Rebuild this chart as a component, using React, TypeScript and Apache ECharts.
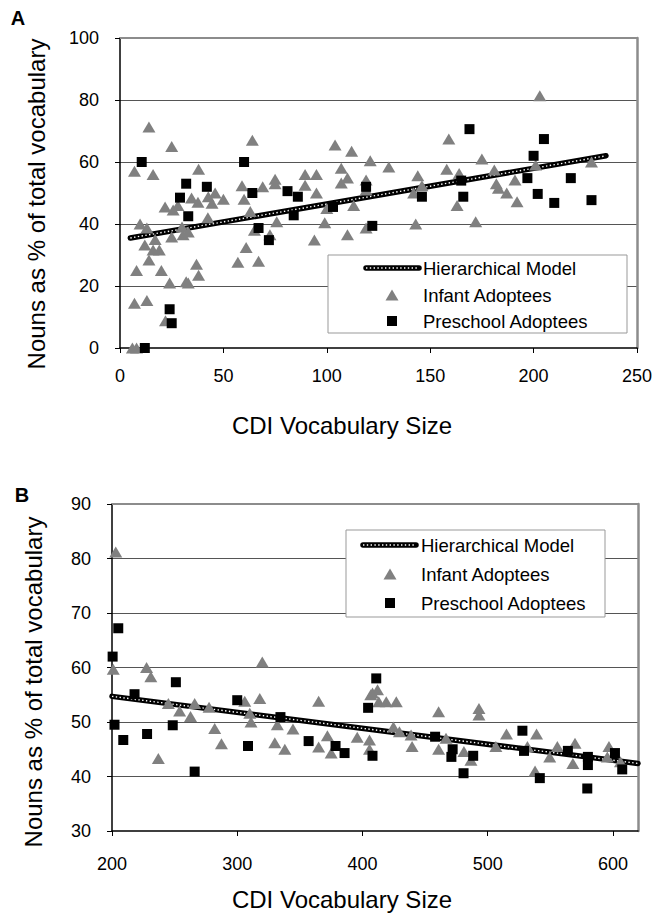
import React, { useEffect, useRef } from "react";
import * as echarts from "echarts";

// ---------- Data: Panel A ----------
const infantA: [number, number][] = [
  [6, 0], [8, 0], [7, 14.4], [13, 15.3], [22, 8.8], [8, 25], [20, 25], [24, 21], [32, 21.4], [33, 21],
  [37, 27], [38, 23.5], [14, 28.4], [12, 33.2], [16, 31.6], [19, 31.6], [17, 35], [25, 35.8], [9.7, 40],
  [13, 38.7], [30, 39], [30.5, 36.5], [33, 37.4], [21.8, 45.5], [25.7, 44.5], [28, 46], [34.6, 48.4],
  [37.7, 47], [42.7, 48.8], [46, 50], [50, 48], [44.5, 46.7], [42.5, 42], [7, 57], [16, 56], [38, 57.7],
  [14, 71.3], [25, 65], [64, 67], [59, 52.3], [60, 48], [69, 52], [75, 54.4], [75, 53], [89.5, 56],
  [89.5, 52.5], [95, 56], [95, 50], [63, 44], [65, 38], [75.8, 40.7], [94, 34.8], [72.5, 36.5], [61, 32.4],
  [57, 27.7], [67, 28], [100, 45], [99, 40.4], [104, 65.5], [112, 63.5], [107, 58], [110, 54.8], [107, 53.2],
  [121, 60.4], [130, 58.4], [119, 54.2], [119, 51], [144, 55.6], [146, 52.3], [142, 50], [110, 36.5],
  [119, 38.7], [113, 46], [143, 40], [159, 67.4], [175, 61], [158, 57.7], [164, 56.3], [163, 46], [172, 40.7],
  [181, 57.4], [182, 53], [183, 51.5], [187, 50], [191, 54.2], [192, 47.2], [201, 59], [203, 81.4], [228, 60],
];
const preschoolA: [number, number][] = [
  [10.5, 60], [12, 0], [24, 12.5], [25, 8], [29, 48.5], [32, 53], [33, 42.5], [42, 52], [60, 60], [64, 50],
  [67, 38.7], [72, 34.8], [81, 50.6], [84, 42.8], [86, 48.8], [103, 45.5], [119, 52], [122, 39.4], [146, 48.8],
  [165, 54], [166, 48.8], [169, 70.6], [197, 54.8], [200, 62], [202, 49.7], [205, 67.4], [210, 46.8],
  [218, 54.8], [228, 47.7],
];
const modelA: [number, number][] = [[5, 35.5], [235, 62]];
const xTicksA = [0, 50, 100, 150, 200, 250];
const yTicksA = [0, 20, 40, 60, 80, 100];

// ---------- Data: Panel B ----------
const infantB: [number, number][] = [
  [203, 81.2], [201, 59.7], [227.6, 60], [231, 58.3], [320, 61], [318, 54.3], [237, 43.3], [245, 53.4],
  [254, 52], [262.7, 51], [266, 53.4], [277.5, 52.7], [282, 48.8], [287.4, 46], [306, 53.8], [310, 51.6],
  [311, 50], [332, 49.5], [330, 46.2], [338, 45], [344.5, 48.7], [365, 53.8], [365, 45.4], [372, 47.5],
  [375, 44.3], [395.8, 47.2], [405.6, 46.7], [405.6, 45], [406.6, 55], [408, 55.3], [412, 55.9], [413, 53.7],
  [419, 53.7], [427, 53.7], [424.7, 49.1], [429.5, 48.2], [438.8, 47.6], [439.6, 45.5], [460.8, 51.9],
  [460.8, 45], [466.7, 47], [481, 44.6], [486.6, 43], [493, 52.5], [493, 51.3], [506.5, 45.5], [515, 47.8],
  [531.7, 45.5], [537.8, 41], [539, 47.8], [549.5, 43.6], [555.6, 45.5], [569.7, 46.1], [568, 42.4],
  [596.8, 45.5], [595.5, 43.6], [606, 42.7],
];
const preschoolB: [number, number][] = [
  [200.5, 62], [205, 67.2], [202, 49.5], [209, 46.7], [218, 55.1], [228, 47.8], [248.5, 49.4], [251, 57.3],
  [266, 40.9], [300, 54], [308.6, 45.6], [334.5, 50.9], [357, 46.5], [378.5, 45.6], [385.7, 44.3],
  [404.5, 52.6], [408, 43.8], [411, 58], [458, 47.3], [471, 43.6], [472, 45], [480.7, 40.6], [488.4, 43.8],
  [527.7, 48.4], [529, 44.7], [541.6, 39.7], [564, 44.7], [580, 43.6], [580, 42.1], [579.5, 37.8],
  [601.6, 44.3], [607.4, 41.3],
];
const modelB: [number, number][] = [[200, 54.7], [620, 42.4]];
const xTicksB = [200, 300, 400, 500, 600];
const yTicksB = [30, 40, 50, 60, 70, 80, 90];

const legendNames = ["Hierarchical Model", "Infant Adoptees", "Preschool Adoptees"];
const yTitle = "Nouns as % of total vocabulary";
const xTitle = "CDI Vocabulary Size";

const FONT = "'Liberation Sans', Arial, Helvetica, sans-serif";
const GRAY = "#808080";
const BORDER = "#8c8c8c";

function mainX(gridIndex: number, ticks: number[], max: number, margin: number) {
  return {
    type: "value",
    gridIndex,
    position: "bottom",
    min: ticks[0],
    max,
    interval: ticks[1] - ticks[0],
    axisLine: { show: true, onZero: false, lineStyle: { color: "#000", width: 1.5 } },
    axisTick: { show: true, length: 5, lineStyle: { color: "#000", width: 1 }, customValues: ticks },
    axisLabel: { color: "#000", fontSize: 18, fontFamily: FONT, margin, customValues: ticks },
    splitLine: { show: false },
  };
}
function borderX(gridIndex: number, ticks: number[], max: number) {
  return {
    type: "value",
    gridIndex,
    position: "top",
    min: ticks[0],
    max,
    interval: ticks[1] - ticks[0],
    axisLine: { show: true, onZero: false, lineStyle: { color: BORDER, width: 2 } },
    axisTick: { show: false },
    axisLabel: { show: false },
    splitLine: { show: false },
  };
}
function mainY(gridIndex: number, ticks: number[]) {
  return {
    type: "value",
    gridIndex,
    position: "left",
    min: ticks[0],
    max: ticks[ticks.length - 1],
    interval: ticks[1] - ticks[0],
    axisLine: { show: true, onZero: false, lineStyle: { color: "#000", width: 1.5 } },
    axisTick: { show: true, length: 5, lineStyle: { color: "#000", width: 1 } },
    axisLabel: { color: "#000", fontSize: 18, fontFamily: FONT, margin: 21 },
    splitLine: { show: true, showMinLine: false, showMaxLine: false, lineStyle: { color: "#555", width: 1 } },
  };
}
function borderY(gridIndex: number, ticks: number[]) {
  return {
    type: "value",
    gridIndex,
    position: "right",
    min: ticks[0],
    max: ticks[ticks.length - 1],
    interval: ticks[1] - ticks[0],
    axisLine: { show: true, onZero: false, lineStyle: { color: BORDER, width: 2.5 } },
    axisTick: { show: false },
    axisLabel: { show: false },
    splitLine: { show: false },
  };
}

function panelSeries(xi: number, yi: number, model: [number, number][], inf: [number, number][], pre: [number, number][]) {
  return [
    {
      name: legendNames[0], type: "line", xAxisIndex: xi, yAxisIndex: yi, data: model, symbol: "none",
      lineStyle: { color: "#000", width: 5.5, cap: "round" }, z: 2, silent: true,
    },
    {
      name: legendNames[0] + " ", type: "line", xAxisIndex: xi, yAxisIndex: yi, data: model, symbol: "none",
      lineStyle: { color: "#fff", width: 1.4, type: [1.4, 2.4] }, z: 3, silent: true,
    },
    {
      name: legendNames[1], type: "scatter", xAxisIndex: xi, yAxisIndex: yi, data: inf, symbol: "triangle",
      symbolSize: [13, 11], itemStyle: { color: GRAY, opacity: 1 }, z: 4,
    },
    {
      name: legendNames[2], type: "scatter", xAxisIndex: xi, yAxisIndex: yi, data: pre, symbol: "rect",
      symbolSize: 10, itemStyle: { color: "#000", opacity: 1 }, z: 5,
    },
  ];
}

function legendBox(x: number, y: number, w: number, h: number, textX: number, iconX: number, rows: number[], lineX0: number, lineX1: number) {
  const els: any[] = [];
  els.push({ type: "rect", z: 100, shape: { x, y, width: w, height: h }, style: { fill: "#fff", stroke: "#999", lineWidth: 1 } });
  els.push({ type: "line", z: 101, shape: { x1: lineX0, y1: rows[0], x2: lineX1, y2: rows[0] }, style: { stroke: "#000", lineWidth: 5.5, lineCap: "round" } });
  els.push({ type: "line", z: 102, shape: { x1: lineX0, y1: rows[0], x2: lineX1, y2: rows[0] }, style: { stroke: "#fff", lineWidth: 1.4, lineDash: [1.4, 2.4] } });
  els.push({ type: "polygon", z: 101, shape: { points: [[iconX - 6.5, rows[1] + 5.5], [iconX + 6.5, rows[1] + 5.5], [iconX, rows[1] - 5.5]] }, style: { fill: GRAY } });
  els.push({ type: "rect", z: 101, shape: { x: iconX - 5, y: rows[2] - 5, width: 10, height: 10 }, style: { fill: "#000" } });
  legendNames.forEach((t, i) => {
    els.push({ type: "text", z: 101, x: textX, y: rows[i], style: { text: t, fontSize: 18.5, fontFamily: FONT, fill: "#000", align: "left", verticalAlign: "middle" } });
  });
  return els;
}

export default function App() {
  const ref = useRef<HTMLDivElement>(null);
  useEffect(() => {
    if (!ref.current) return;
    const chart = echarts.init(ref.current, null, { renderer: "svg" });
    const option: any = {
      animation: false,
      backgroundColor: "#fff",
      grid: [
        { left: 120, top: 38, width: 517, height: 310, show: false },
        { left: 112, top: 504, width: 526, height: 327, show: false },
      ],
      xAxis: [
        mainX(0, xTicksA, xTicksA[xTicksA.length - 1], 19),
        borderX(0, xTicksA, xTicksA[xTicksA.length - 1]),
        mainX(1, xTicksB, 620, 24),
        borderX(1, xTicksB, 620),
      ],
      yAxis: [mainY(0, yTicksA), borderY(0, yTicksA), mainY(1, yTicksB), borderY(1, yTicksB)],
      series: [...panelSeries(0, 0, modelA, infantA, preschoolA), ...panelSeries(2, 2, modelB, infantB, preschoolB)],
      graphic: [
        { type: "text", z: 100, x: 18, y: 18, style: { text: "A", fontSize: 20, fontWeight: "bold", fontFamily: FONT, fill: "#000", align: "center", verticalAlign: "middle" } },
        { type: "text", z: 100, x: 22, y: 495, style: { text: "B", fontSize: 20, fontWeight: "bold", fontFamily: FONT, fill: "#000", align: "center", verticalAlign: "middle" } },
        { type: "text", z: 100, x: 36, y: 204, rotation: Math.PI / 2, style: { text: yTitle, fontSize: 24, fontFamily: FONT, fill: "#000", align: "center", verticalAlign: "middle" } },
        { type: "text", z: 100, x: 33, y: 682, rotation: Math.PI / 2, style: { text: yTitle, fontSize: 24, fontFamily: FONT, fill: "#000", align: "center", verticalAlign: "middle" } },
        { type: "text", z: 100, x: 342, y: 425, style: { text: xTitle, fontSize: 24, fontFamily: FONT, fill: "#000", align: "center", verticalAlign: "middle" } },
        { type: "text", z: 100, x: 342, y: 899, style: { text: xTitle, fontSize: 24, fontFamily: FONT, fill: "#000", align: "center", verticalAlign: "middle" } },
        ...legendBox(328, 255, 299, 78, 423, 392, [268, 295, 321], 366, 419),
        ...legendBox(346, 530, 259, 87, 421, 390, [545, 574, 603], 363, 416),
      ],
    };
    chart.setOption(option);
    return () => chart.dispose();
  }, []);
  return <div ref={ref} style={{ position: "absolute", left: 0, top: 0, width: 655, height: 916 }} />;
}
